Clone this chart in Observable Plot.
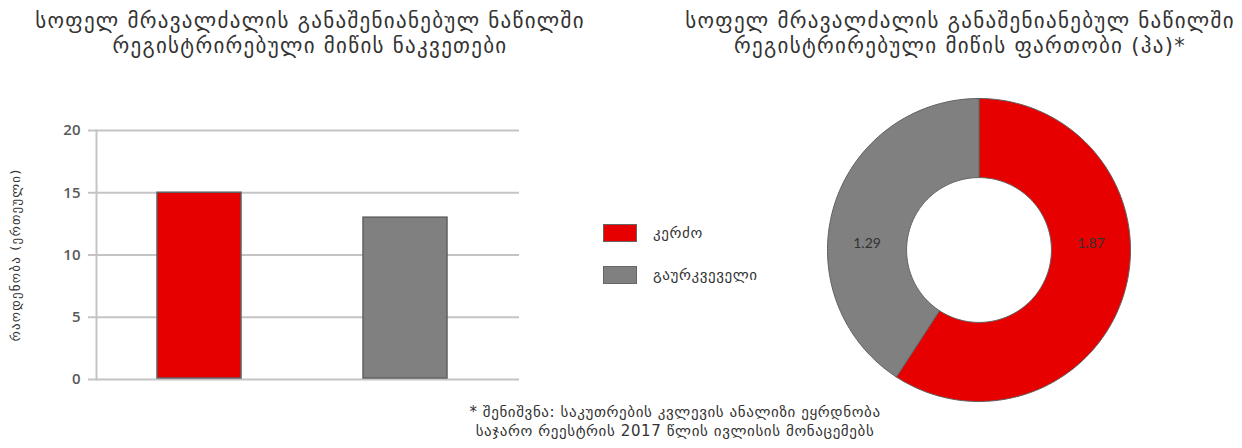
<!DOCTYPE html>
<html><head><meta charset="utf-8">
<script src="https://cdn.jsdelivr.net/npm/d3@7"></script>
<script src="https://cdn.jsdelivr.net/npm/@observablehq/plot@0.6"></script>
<style>
html,body{margin:0;padding:0;background:#fff}
body{width:1242px;height:448px;position:relative;overflow:hidden;font-family:"DejaVu Sans",sans-serif;color:#333}
.abs{position:absolute}
.title{font-size:21px;letter-spacing:1.3px;line-height:25px;text-align:center;color:#333;white-space:nowrap}
.leg{position:absolute;font-size:15px;letter-spacing:0.6px;color:#333;display:flex;align-items:center;white-space:nowrap}
.sw{width:34px;height:18px;margin-right:16px;box-sizing:border-box;border:1.5px solid #666}
</style></head><body>
<div id="t1" class="abs title" style="left:10px;top:9px;width:600px"></div>
<div id="t2" class="abs title" style="left:660px;top:9px;width:600px"></div>
<div id="bar" class="abs" style="left:0;top:110px"></div>
<div id="ylab" class="abs" style="left:15px;top:255px;font-size:13px;letter-spacing:1.2px;transform:translate(-50%,-50%) rotate(-90deg);white-space:nowrap"></div>
<div id="legend"></div>
<div id="donut" class="abs" style="left:823px;top:94px"></div>
<div id="note" class="abs" style="left:375px;top:403px;width:600px;text-align:center;font-size:15px;letter-spacing:0.6px;line-height:19px;white-space:nowrap"></div>
<script>
const categories = ["კერძო", "გაურკვეველი"];
const parcelCounts = [15, 13];
const areaHa = [1.87, 1.29];
const colors = ["#e60000", "#808080"];
const yTicks = [0, 5, 10, 15, 20];
const titleLeft = ["სოფელ მრავალძალის განაშენიანებულ ნაწილში", "რეგისტრირებული მიწის ნაკვეთები"];
const titleRight = ["სოფელ მრავალძალის განაშენიანებულ ნაწილში", "რეგისტრირებული მიწის ფართობი (ჰა)*"];
const yLabel = "რაოდენობა (ერთეული)";
const noteLines = ["* შენიშვნა: საკუთრების კვლევის ანალიზი ეყრდნობა", "საჯარო რეესტრის 2017 წლის ივლისის მონაცემებს"];

document.getElementById("t1").innerHTML = titleLeft.join("<br>");
document.getElementById("t2").innerHTML = titleRight.join("<br>");
document.getElementById("ylab").textContent = yLabel;
document.getElementById("note").innerHTML = noteLines.join("<br>");

// legend
const leg = document.getElementById("legend");
categories.forEach((c, i) => {
  const row = document.createElement("div");
  row.className = "leg";
  row.style.left = "603px";
  row.style.top = (224 + i * 42) + "px";
  const sw = document.createElement("div");
  sw.className = "sw";
  sw.style.background = colors[i];
  const t = document.createElement("span");
  t.textContent = c;
  row.appendChild(sw); row.appendChild(t);
  leg.appendChild(row);
});

const barData = categories.map((c, i) => ({cat: c, value: parcelCounts[i]}));
const colorScale = {domain: categories, range: colors};

const bar = Plot.plot({
  width: 540, height: 290,
  marginLeft: 96, marginRight: 21, marginTop: 20, marginBottom: 21,
  x: {domain: categories, axis: null, paddingInner: 0.59, paddingOuter: 0.32, align: 0.46},
  y: {domain: [0, 20]},
  color: colorScale,
  marks: [
    Plot.ruleY(yTicks, {stroke: "#c4c4c4", strokeWidth: 2}),
    Plot.axisY({ticks: yTicks, tickSize: 8, tickPadding: 8, label: null, stroke: "#c4c4c4", strokeWidth: 2, strokeOpacity: 1,
      fill: "#595959", fontSize: 15, fontWeight: 600, fontFamily: "Open Sans"}),
    Plot.frame({anchor: "left", stroke: "#c4c4c4", strokeWidth: 2, strokeOpacity: 1}),
    Plot.barY(barData, {x: "cat", y: "value", fill: "cat", stroke: "#606060", strokeWidth: 1.5, insetBottom: 1})
  ]
});
document.getElementById("bar").appendChild(bar);

// donut
const pieData = categories.map((c, i) => ({cat: c, value: areaHa[i]}));
const arcs = d3.pie().sort(null).value(d => d.value)(pieData);
const rIn = 0.478;
const pts = [];
arcs.forEach(a => {
  const n = 120;
  const seg = [];
  for (let k = 0; k <= n; k++) {
    const t = a.startAngle + (a.endAngle - a.startAngle) * k / n;
    seg.push({cat: a.data.cat, x: Math.sin(t), y: Math.cos(t)});
  }
  for (let k = n; k >= 0; k--) {
    const t = a.startAngle + (a.endAngle - a.startAngle) * k / n;
    seg.push({cat: a.data.cat, x: rIn * Math.sin(t), y: rIn * Math.cos(t)});
  }
  seg.push(seg[0]);
  pts.push(...seg);
});
const mid = (1 + rIn) / 2;
const labels = arcs.map(a => {
  const m = (a.startAngle + a.endAngle) / 2;
  return {x: Math.sign(Math.sin(m)) * mid, y: 0, text: a.data.value.toFixed(2)};
});

const donut = Plot.plot({
  width: 311, height: 311,
  margin: 4,
  x: {domain: [-1, 1], axis: null},
  y: {domain: [-1, 1], axis: null},
  color: colorScale,
  marks: [
    Plot.line(pts, {x: "x", y: "y", z: "cat", fill: "cat", stroke: "#606060", strokeWidth: 1, curve: "linear"}),
    Plot.text(labels, {x: "x", y: "y", text: "text", dy: -6, fontSize: 14, fill: "#333", fontFamily: "Lato"})
  ]
});
document.getElementById("donut").appendChild(donut);
</script>
</body></html>
